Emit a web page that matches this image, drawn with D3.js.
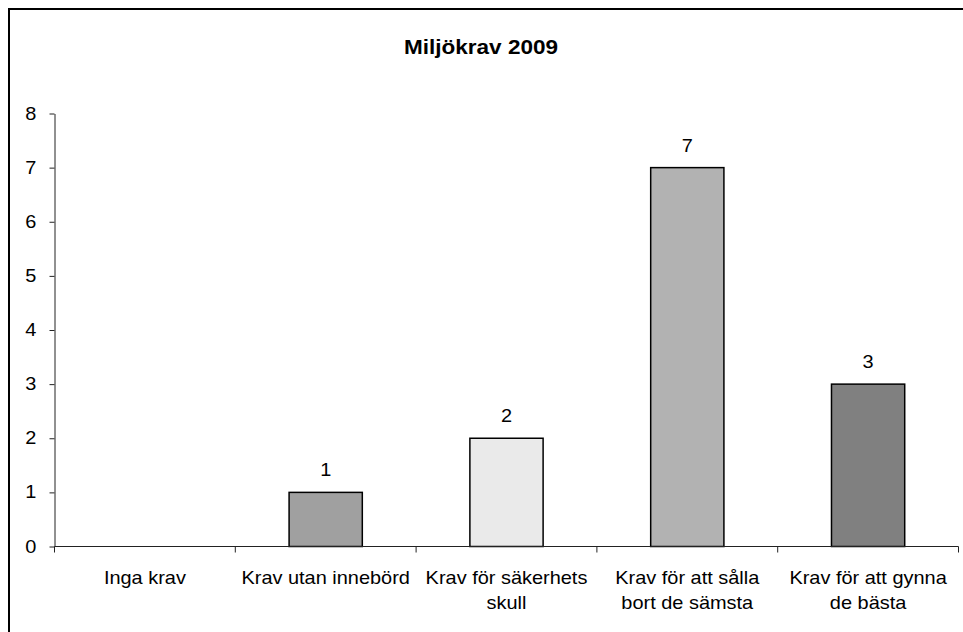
<!DOCTYPE html>
<meta charset="utf-8">
<style>
    body { margin: 0; background: white; }
    text { font-family: "Liberation Sans", Arial, sans-serif; fill: black; }
</style>
<script src="https://d3js.org/d3.v7.min.js"></script>
<div id="chart"></div>
<script>
    // data
    var categories = [['Inga krav'], ['Krav utan innebörd'], ['Krav för säkerhets', 'skull'],
        ['Krav för att sålla', 'bort de sämsta'], ['Krav för att gynna', 'de bästa']];
    var values = [0, 1, 2, 7, 3];
    var barColors = ['#ffffff', '#a0a0a0', '#eaeaea', '#b2b2b2', '#808080'];
    var yTicks = [0, 1, 2, 3, 4, 5, 6, 7, 8];

    var width = 963,
        height = 632,
        margin = { top: 113.5, right: 4.5, bottom: 85.5, left: 54.5 },
        fontSize = '17.5px',
        stretch = 1.14; // the original text is a bit wider than Arial

    var svg = d3.select('#chart').append('svg')
        .attr('width', width)
        .attr('height', height);

    // stretch a text element horizontally around its anchor point
    function widen(sel, s) {
        s = s || stretch;
        sel.attr('transform', function() {
            var tx = +this.getAttribute('x') || 0;
            return 'translate(' + tx + ',0) scale(' + s + ',1) translate(' + (-tx) + ',0)';
        });
    }

    // outer frame (cut off on the right and bottom)
    svg.append('rect')
        .attr('x', 9).attr('y', 9)
        .attr('width', width + 20).attr('height', height + 20)
        .attr('fill', 'none')
        .attr('stroke', '#000')
        .attr('stroke-width', 2);

    svg.append('text')
        .attr('x', 481).attr('y', 54)
        .attr('text-anchor', 'middle')
        .style('font-size', '20.5px')
        .style('font-weight', 'bold')
        .text('Miljökrav 2009')
        .call(widen, 1.1);

    var x = d3.scaleBand()
        .domain(d3.range(values.length))
        .range([margin.left, width - margin.right])
        .paddingInner(0)
        .paddingOuter(0);

    var y = d3.scaleLinear()
        .domain([0, 8])
        .range([height - margin.bottom, margin.top]);

    var barW = x.bandwidth() * 0.405;
    var shown = values.map((v, i) => ({ v: v, i: i })).filter(d => d.v > 0);

    // bars
    svg.append('g').selectAll('rect')
        .data(shown)
        .enter().append('rect')
        .attr('x', d => x(d.i) + (x.bandwidth() - barW) / 2)
        .attr('y', d => y(d.v))
        .attr('width', barW)
        .attr('height', d => y(0) - y(d.v))
        .attr('fill', d => barColors[d.i])
        .attr('stroke', '#000')
        .attr('stroke-width', 1.5);

    // value labels
    svg.append('g').selectAll('text')
        .data(shown)
        .enter().append('text')
        .attr('x', d => x(d.i) + x.bandwidth() / 2)
        .attr('y', d => y(d.v) - 16)
        .attr('text-anchor', 'middle')
        .style('font-size', fontSize)
        .text(d => d.v)
        .call(widen);

    // y axis
    var yAxis = svg.append('g')
        .attr('transform', 'translate(' + margin.left + ',0)')
        .call(d3.axisLeft(y).tickValues(yTicks).tickSize(5).tickPadding(11).tickSizeOuter(0));
    yAxis.selectAll('text').style('font-size', fontSize).attr('font-family', null)
        .attr('transform', 'translate(-8,0) scale(' + stretch + ',1) translate(7,0)');
    yAxis.selectAll('path, line').attr('stroke', '#222');

    // x axis with ticks at category boundaries
    var xAxis = svg.append('g')
        .attr('transform', 'translate(0,' + y(0) + ')');
    xAxis.append('line')
        .attr('x1', margin.left).attr('x2', width - margin.right)
        .attr('stroke', '#222');
    xAxis.selectAll('.tick')
        .data(d3.range(values.length + 1))
        .enter().append('line')
        .attr('x1', i => i < values.length ? x(i) : width - margin.right)
        .attr('x2', i => i < values.length ? x(i) : width - margin.right)
        .attr('y1', 0).attr('y2', 6)
        .attr('stroke', '#222');

    xAxis.selectAll('.lab')
        .data(categories)
        .enter().append('text')
        .attr('x', (d, i) => x(i) + x.bandwidth() / 2)
        .attr('text-anchor', 'middle')
        .style('font-size', fontSize)
        .call(widen)
        .selectAll('tspan')
        .data((d, i) => d.map(s => ({ s: s, i: i })))
        .enter().append('tspan')
        .attr('x', d => x(d.i) + x.bandwidth() / 2)
        .attr('y', (d, j) => 38 + j * 25)
        .text(d => d.s);
</script>
